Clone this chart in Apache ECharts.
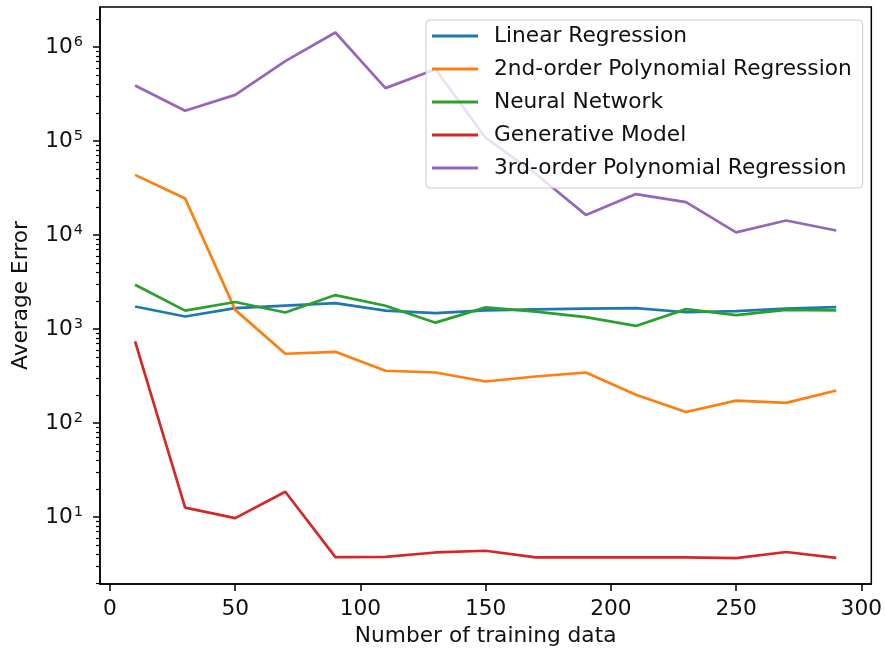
<!DOCTYPE html>
<html>
<head>
<meta charset="utf-8">
<script src="https://cdn.jsdelivr.net/npm/echarts@6/dist/echarts.min.js"></script>
<style>
html,body{margin:0;padding:0;background:#fff;}
#chart{width:885px;height:654px;}
</style>
</head>
<body>
<div id="chart"></div>
<script>
const trainingSizes = [10, 30, 50, 70, 90, 110, 130, 150, 170, 190, 210, 230, 250, 270, 290];
const seriesNames = ['Linear Regression', '2nd-order Polynomial Regression', 'Neural Network', 'Generative Model', '3rd-order Polynomial Regression'];
const linearRegression = [1740, 1360, 1670, 1780, 1890, 1570, 1480, 1580, 1620, 1650, 1670, 1510, 1550, 1650, 1710];
const poly2Regression = [43700, 24500, 1600, 546, 573, 360, 345, 277, 313, 345, 200, 131, 173, 164, 222];
const neuralNetwork = [2960, 1570, 1940, 1500, 2300, 1770, 1170, 1700, 1530, 1340, 1080, 1630, 1410, 1600, 1580];
const generativeModel = [738, 12.6, 9.75, 18.6, 3.75, 3.77, 4.2, 4.38, 3.72, 3.72, 3.72, 3.72, 3.66, 4.25, 3.68];
const poly3Regression = [390000, 210000, 310000, 710000, 1430000, 366000, 580000, 108000, 45000, 16400, 27300, 22400, 10700, 14300, 11200];
const xTickValues = [0, 50, 100, 150, 200, 250, 300];
const yMajorTicks = [10, 100, 1000, 10000, 100000, 1000000];
const yMinorTicks = [2,3,4,5,6,7,8,9,20,30,40,50,60,70,80,90,200,300,400,500,600,700,800,900,
  2000,3000,4000,5000,6000,7000,8000,9000,20000,30000,40000,50000,60000,70000,80000,90000,
  200000,300000,400000,500000,600000,700000,800000,900000,2000000];
const colors = ['#1f77b4', '#ff7f0e', '#2ca02c', '#d62728', '#9467bd'];
const allValues = [linearRegression, poly2Regression, neuralNetwork, generativeModel, poly3Regression];

const FONT = 'DejaVu Sans';
const FS = 21.7;

const chart = echarts.init(document.getElementById('chart'), null, {renderer: 'canvas'});
const series = seriesNames.map((name, i) => ({
  name: name,
  type: 'line',
  data: trainingSizes.map((x, j) => [x, allValues[i][j]]),
  showSymbol: false,
  symbol: 'none',
  lineStyle: {color: colors[i], width: 2.7},
  itemStyle: {color: colors[i]},
  z: 2 + i * 0.01,
  animation: false
}));

chart.setOption({
  animation: false,
  textStyle: {fontFamily: FONT},
  grid: {left: 100, right: 11, top: 7, bottom: 70, show: true, borderColor: '#000', borderWidth: 1.5, backgroundColor: 'transparent'},
  legend: {
    orient: 'vertical',
    left: 426,
    top: 20,
    padding: [4, 11, 8, 6],
    itemGap: 9,
    itemWidth: 46,
    itemHeight: 3,
    icon: 'rect',
    backgroundColor: 'rgba(255,255,255,0.8)',
    borderColor: '#cccccc',
    borderWidth: 1,
    borderRadius: 4,
    textStyle: {fontFamily: FONT, fontSize: FS, color: '#111', lineHeight: 24, padding: [0, 0, 0, 11]},
    data: seriesNames
  },
  xAxis: {
    type: 'value',
    min: -4,
    max: 304,
    name: 'Number of training data',
    nameLocation: 'middle',
    nameGap: 40,
    nameTextStyle: {fontFamily: FONT, fontSize: FS, color: '#111'},
    axisLine: {show: true, onZero: false, lineStyle: {color: '#000', width: 1.5}},
    axisTick: {show: true, length: 7, lineStyle: {color: '#000', width: 1.5}, customValues: xTickValues},
    axisLabel: {fontFamily: FONT, fontSize: FS, color: '#111', margin: 14, customValues: xTickValues},
    splitLine: {show: false}
  },
  yAxis: [{
    type: 'log',
    logBase: 10,
    min: 1.94,
    max: 2670000,
    name: 'Average Error',
    nameLocation: 'middle',
    nameRotate: 90,
    nameGap: 68,
    nameTextStyle: {fontFamily: FONT, fontSize: FS, color: '#111'},
    axisLine: {show: true, onZero: false, lineStyle: {color: '#000', width: 1.5}},
    axisTick: {show: true, length: 7, lineStyle: {color: '#000', width: 1.5}, customValues: yMajorTicks},
    axisLabel: {
      fontFamily: FONT, fontSize: FS, color: '#111', margin: 17, customValues: yMajorTicks,
      formatter: v => '{b|10}{s|' + Math.round(Math.log10(v)) + '}',
      rich: {
        b: {fontFamily: FONT, fontSize: FS, color: '#111', lineHeight: 24},
        s: {fontFamily: FONT, fontSize: 14.5, color: '#111', verticalAlign: 'top', padding: [0, 0, 0, 1]}
      }
    },
    splitLine: {show: false}
  }, {
    type: 'log',
    logBase: 10,
    min: 1.94,
    max: 2670000,
    position: 'left',
    axisLine: {show: false, onZero: false},
    axisTick: {show: true, length: 4, lineStyle: {color: '#000', width: 1.2}, customValues: yMinorTicks},
    axisLabel: {show: false},
    splitLine: {show: false}
  }],
  series: series
});
</script>
</body>
</html>
